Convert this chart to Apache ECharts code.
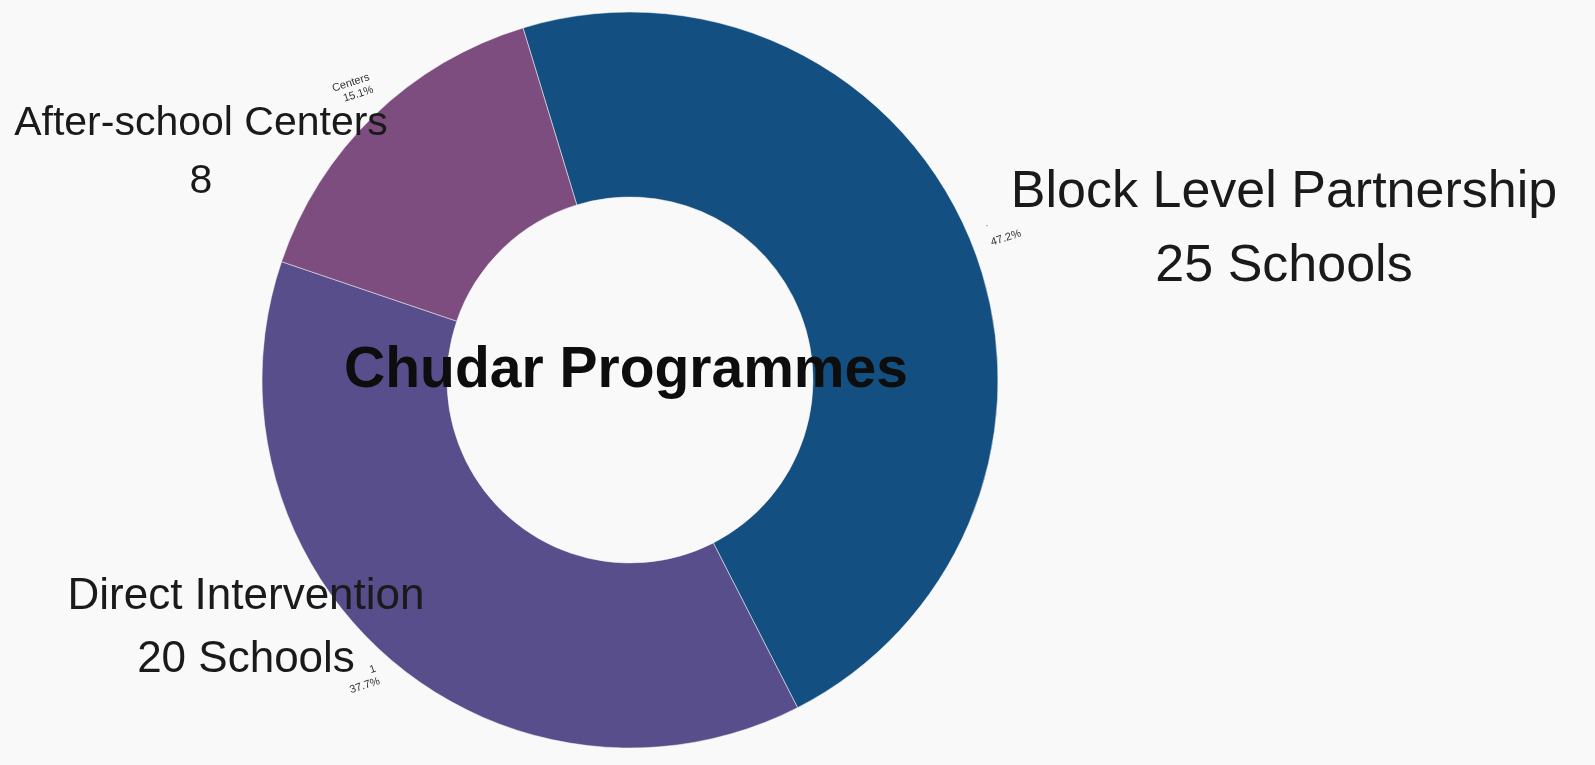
<!DOCTYPE html>
<html>
<head>
<meta charset="utf-8">
<script src="https://cdn.jsdelivr.net/npm/echarts@6/dist/echarts.min.js"></script>
<style>
html,body{margin:0;padding:0;background:#f9f9f9;}
#c{width:1595px;height:765px;}
</style>
</head>
<body>
<div id="c"></div>
<script>
const categories = ['Block Level Partnership', 'Direct Intervention', 'After-school Centers'];
const values = [25, 20, 8];
const valueSuffix = [' Schools', ' Schools', ''];
const shortLabels = ['\u02D9', '1', 'Centers'];
const colors = ['#134f80', '#574e8b', '#7d4d80'];
const titleText = 'Chudar Programmes';

const total = values.reduce((a, b) => a + b, 0);

// big outside label placement (text styling only)
const bigLabelStyle = [
  { x: 1284, y1: 193, y2: 267, size: 52 },
  { x: 246, y1: 597, y2: 660, size: 44 },
  { x: 201, y1: 124, y2: 182, size: 41 }
];
// small percent label nudges
const smallLabelShift = [[-4, 0], [4, 4], [20, -14]];

const graphics = [];
categories.forEach((name, i) => {
  const s = bigLabelStyle[i];
  graphics.push({
    type: 'text', x: s.x, y: s.y1, z: 100,
    style: { text: name, align: 'center', verticalAlign: 'middle',
      font: s.size + 'px "Liberation Sans", Arial, sans-serif', fill: '#1a1a1a' }
  });
  graphics.push({
    type: 'text', x: s.x, y: s.y2, z: 100,
    style: { text: values[i] + valueSuffix[i], align: 'center', verticalAlign: 'middle',
      font: s.size + 'px "Liberation Sans", Arial, sans-serif', fill: '#1a1a1a' }
  });
});
graphics.push({
  type: 'text', x: 626, y: 371, z: 100,
  style: { text: titleText, align: 'center', verticalAlign: 'middle',
    font: 'bold 57px "Liberation Sans", Arial, sans-serif', fill: '#0d0d0d' }
});

const chart = echarts.init(document.getElementById('c'), null, { renderer: 'canvas' });
chart.setOption({
  backgroundColor: '#f9f9f9',
  animation: false,
  series: [{
    type: 'pie',
    center: [630, 380],
    radius: [183, 368],
    startAngle: 106.9,
    clockwise: true,
    avoidLabelOverlap: false,
    itemStyle: { borderColor: '#f9f9f9', borderWidth: 0.5 },
    label: {
      show: true,
      position: 'outside',
      fontSize: 11,
      lineHeight: 13,
      color: '#333',
      fontFamily: '"Liberation Sans", Arial, sans-serif',
      rotate: 18,
      formatter: (p) => shortLabels[p.dataIndex] + '\n' + (p.value / total * 100).toFixed(1) + '%'
    },
    labelLine: { show: false, length: 18, length2: 0 },
    labelLayout: (p) => ({ dx: smallLabelShift[p.dataIndex][0], dy: smallLabelShift[p.dataIndex][1] }),
    emphasis: { disabled: true },
    data: categories.map((n, i) => ({ name: n, value: values[i], itemStyle: { color: colors[i] } }))
  }],
  graphic: graphics
});
</script>
</body>
</html>
